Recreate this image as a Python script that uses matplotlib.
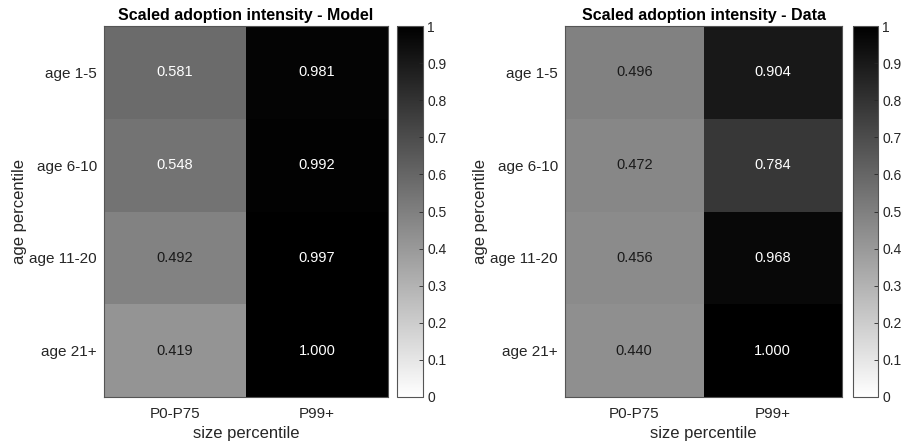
import numpy as np
import matplotlib
matplotlib.use('Agg')
import matplotlib.pyplot as plt

plt.rcParams['font.family'] = ['Liberation Sans', 'DejaVu Sans']

# Data #

size_labels = ['P0-P75', 'P99+']
age_labels = ['age 1-5', 'age 6-10', 'age 11-20', 'age 21+']

model_vals = np.array([[0.581, 0.981],
                       [0.548, 0.992],
                       [0.492, 0.997],
                       [0.419, 1.000]])

data_vals = np.array([[0.496, 0.904],
                      [0.472, 0.784],
                      [0.456, 0.968],
                      [0.440, 1.000]])

titles = ['Scaled adoption intensity - Model', 'Scaled adoption intensity - Data']

edge_col = '#262626'
cmap = plt.get_cmap('gray_r')


def draw_heatmap(fig, rect, cbar_rect, vals, title):
    ax = fig.add_axes(rect)
    nrow, ncol = vals.shape
    mesh = ax.pcolormesh(np.arange(ncol + 1), np.arange(nrow + 1), vals,
                         cmap=cmap, vmin=0, vmax=1)
    ax.set_xlim(0, ncol)
    ax.set_ylim(nrow, 0)
    for i in range(nrow):
        for j in range(ncol):
            v = vals[i, j]
            col = 'white' if v > 0.5 else '#1a1a1a'
            ax.text(j + 0.5, i + 0.5, '%.3f' % v, ha='center', va='center',
                    fontsize=10.5, color=col)
    ax.set_xticks(np.arange(ncol) + 0.5)
    ax.set_xticklabels(size_labels, fontsize=11, color=edge_col)
    ax.set_yticks(np.arange(nrow) + 0.5)
    ax.set_yticklabels(age_labels, fontsize=11, color=edge_col)
    ax.tick_params(axis='x', length=0, pad=7)
    ax.tick_params(axis='y', length=0, pad=5)
    ax.set_xlabel('size percentile', fontsize=12, color=edge_col, labelpad=4)
    ax.set_ylabel('age percentile', fontsize=12, color=edge_col, labelpad=2)
    ax.set_title(title, fontsize=11.5, fontweight='bold', pad=4)
    for sp in ax.spines.values():
        sp.set_color('#555555')
        sp.set_linewidth(0.8)

    cax = fig.add_axes(cbar_rect)
    cb = fig.colorbar(mesh, cax=cax)
    cb.set_ticks(np.linspace(0, 1, 11))
    cb.set_ticklabels(['0', '0.1', '0.2', '0.3', '0.4', '0.5', '0.6', '0.7',
                       '0.8', '0.9', '1'])
    cax.tick_params(direction='in', length=3, width=0.6, labelsize=10,
                    colors=edge_col, pad=3)
    cb.outline.set_edgecolor('#555555')
    cb.outline.set_linewidth(0.8)
    return ax


W, H = 915, 442
fig = plt.figure(figsize=(W / 100, H / 100), dpi=100)


def frac(x0, y0, x1, y1):
    return [x0 / W, 1 - y1 / H, (x1 - x0) / W, (y1 - y0) / H]


draw_heatmap(fig, frac(104, 26, 388, 397), frac(397, 26, 423, 397),
             model_vals, titles[0])
draw_heatmap(fig, frac(565, 26, 842, 397), frac(853, 26, 878, 397),
             data_vals, titles[1])

fig.savefig('out.png', dpi=100)
